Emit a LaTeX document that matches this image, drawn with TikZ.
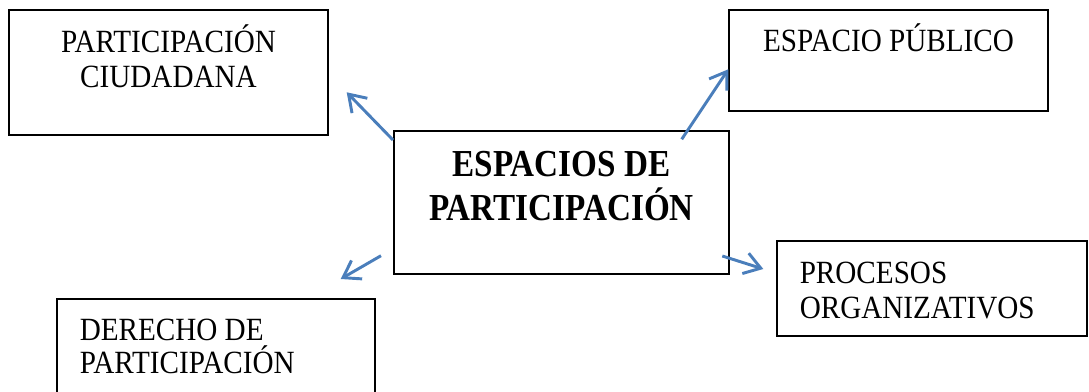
\documentclass[tikz,border=0pt]{standalone}
\usepackage{fontspec}
\setmainfont{Liberation Serif}[FakeStretch=0.9]
\newfontfamily\boldf{Liberation Serif}[FakeStretch=0.87]
\usetikzlibrary{arrows.meta}
\definecolor{arrblue}{RGB}{74,126,187}
\newcommand\linesC[3]{\vtop{\baselineskip=#1\lineskiplimit=-1000pt\halign{\hfil##\hfil\cr#2\cr#3\cr}}}
\newcommand\linesL[3]{\vtop{\baselineskip=#1\lineskiplimit=-1000pt\halign{##\hfil\cr#2\cr#3\cr}}}
\begin{document}
\begin{tikzpicture}[x=0.75pt,y=-0.75pt,
  box/.style={draw=black,line width=1pt,inner sep=0pt},
  txt/.style={inner sep=0pt,font=\fontsize{24.3}{26.25}\selectfont},
  btxt/.style={inner sep=0pt,font=\boldf\bfseries\fontsize{28.6}{32.25}\selectfont},
  conn/.style={draw=arrblue,line width=2.2pt,-{Straight Barb[length=12pt,width=16pt]}}]
\useasboundingbox (0,0) rectangle (1089,392);
% boxes
\node[box,minimum width=239.25pt,minimum height=93.75pt] (tl) at (168.5,72.5) {};
\node[box,minimum width=239.25pt,minimum height=75.75pt] (tr) at (888.5,60.5) {};
\node[box,minimum width=251.25pt,minimum height=107.25pt] (c) at (561.5,202.5) {};
\node[box,minimum width=232.5pt,minimum height=71.25pt] (br) at (932,288.5) {};
\node[box,minimum width=238.5pt,minimum height=75.75pt] (bl) at (216,349.5) {};
% texts
\node[txt,anchor=base] (tlt) at (168.5,53) {\linesC{26.25pt}{PARTICIPACIÓN}{CIUDADANA}};
\node[txt,anchor=base] (trt) at (888.5,52) {ESPACIO PÚBLICO};
\node[btxt,anchor=base] (ct) at (561.5,177) {\linesC{32.25pt}{ESPACIOS DE}{PARTICIPACIÓN}};
\node[txt,anchor=base west] (brt) at (799.5,283) {\linesL{26.25pt}{PROCESOS}{ORGANIZATIVOS}};
\node[txt,anchor=base west] (blt) at (79.5,340) {\linesL{24.75pt}{DERECHO DE}{PARTICIPACIÓN}};
% connectors
\coordinate (a1s) at (393,140);   \coordinate (a1e) at (346.7,92.3);
\coordinate (a2s) at (681.7,139.3); \coordinate (a2e) at (728.3,69.3);
\coordinate (a3s) at (381,255.7); \coordinate (a3e) at (340.7,279);
\coordinate (a4s) at (722.3,256); \coordinate (a4e) at (763.3,269);
\draw[conn] (a1s) -- (a1e);
\draw[conn] (a2s) -- (a2e);
\draw[conn] (a3s) -- (a3e);
\draw[conn] (a4s) -- (a4e);
\end{tikzpicture}
\end{document}
